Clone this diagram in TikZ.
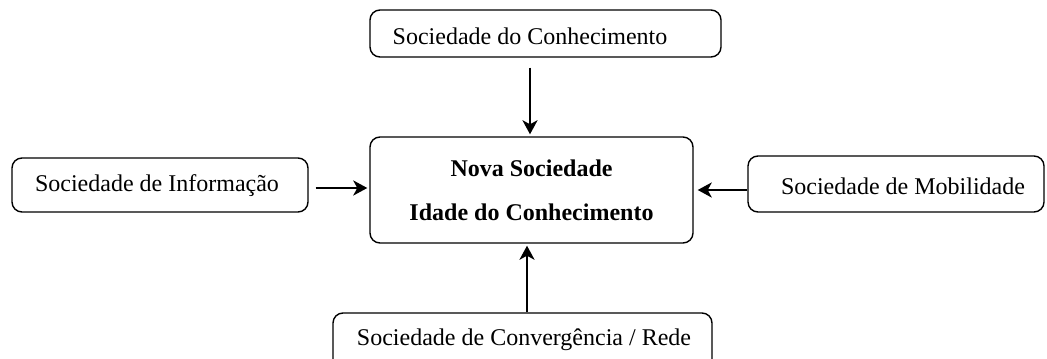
\documentclass[tikz,border=0pt]{standalone}
\usepackage{fontspec}
\setmainfont{Liberation Serif}
\usetikzlibrary{arrows.meta}
\begin{document}
\begin{tikzpicture}[x=0.5pt,y=-0.5pt,
  box/.style={draw,rounded corners=5pt,line width=0.7pt,inner sep=0pt},
  lbl/.style={font=\fontsize{12}{14}\selectfont,inner sep=0pt},
  arr/.style={line width=1.3pt,-{Stealth[length=7pt,width=7.5pt,inset=2pt]}}]
\useasboundingbox (0,0) rectangle (1047,358);
% boxes
\node[box,minimum width=175.5pt,minimum height=23.5pt] (topbox) at (545.5,33.5) {};
\node[lbl] (toptext) at (530,36) {Sociedade do Conhecimento};
\node[box,minimum width=161.5pt,minimum height=53pt,align=center,
      font=\fontsize{12}{22}\selectfont\bfseries] (center) at (531.5,190)
      {Nova Sociedade\\Idade do Conhecimento};
\node[box,minimum width=148pt,minimum height=27pt] (leftbox) at (160,185) {};
\node[lbl] (lefttext) at (157,186) {Sociedade de Informação};
\node[box,minimum width=148pt,minimum height=28pt] (rightbox) at (896,184) {};
\node[lbl] (righttext) at (903,186) {Sociedade de Mobilidade};
\node[box,minimum width=189.5pt,minimum height=28.5pt] (botbox) at (522.5,341.5) {};
\node[lbl] (bottext) at (524,340) {Sociedade de Convergência / Rede};
% arrows
\draw[arr] ([yshift=-5pt]topbox.south -| toptext.center) -- ([yshift=1pt]center.north -| toptext.center);
\draw[arr] ([xshift=3.5pt]leftbox.east |- 0,188) -- ([xshift=-1pt]center.west |- 0,188);
\draw[arr] (rightbox.west |- 0,190) -- ([xshift=2pt]center.east |- 0,190);
\draw[arr] (botbox.north -| 527,0) -- ([yshift=-1pt]center.south -| 527,0);
\end{tikzpicture}
\end{document}
